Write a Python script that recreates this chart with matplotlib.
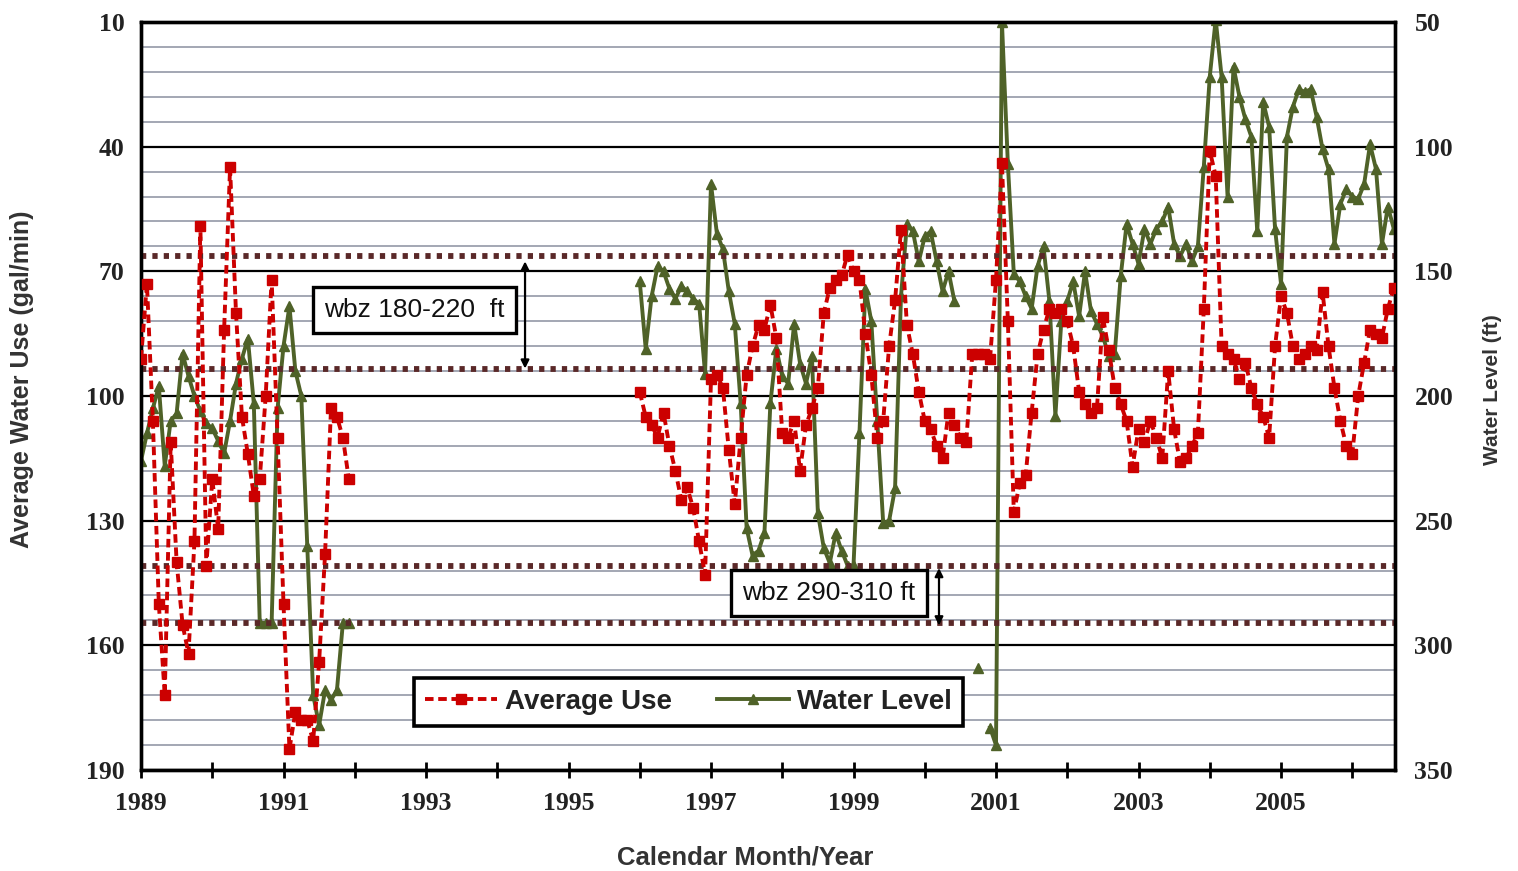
import numpy as np
import matplotlib
matplotlib.use("Agg")
import matplotlib.pyplot as plt
from matplotlib.lines import Line2D
from matplotlib.ticker import MultipleLocator, FixedLocator

# ---- monthly records (first month of each block given separately) ----
start_a = 1989.0   # Jan 1989
start_b = 1996.0   # Jan 1996

avg_use_a = [91, 73, 106, 150, 172, 111, 140, 155, 162, 135, 59, 141,
             120, 132, 84, 45, 80, 105, 114, 124, 120, 100, 72, 110,
             150, 185, 176, 178, 178, 183, 164, 138, 103, 105, 110, 120]

level_a = [226, 215, 205, 196, 228, 210, 207, 183, 192, 200, 206, 211,
           213, 218, 223, 210, 195, 185, 177, 203, 291, 291, 291, 205,
           180, 164, 190, 200, 260, 320, 332, 318, 322, 318, 291, 291]

avg_use_b = [99, 105, 107, 110, 104, 112, 118, 125, 122, 127, 135, 143,
             96, 95, 98, 113, 126, 110, 95, 88, 83, 84, 78, 86,
             109, 110, 106, 118, 107, 103, 98, 80, 74, 72, 71, 66,
             70, 72, 85, 95, 110, 106, 88, 77, 60, 83, 90, 99,
             106, 108, 112, 115, 104, 107, 110, 111, 90, 90, 90, 91,
             72, 44, 82, 128, 121, 119, 104, 90, 84, 79, 80, 79,
             82, 88, 99, 102, 104, 103, 81, 89, 98, 102, 106, 117,
             108, 111, 106, 110, 115, 94, 108, 116, 115, 112, 109, 79,
             41, 47, 88, 90, 91, 96, 92, 98, 102, 105, 110, 88,
             76, 80, 88, 91, 90, 88, 89, 75, 88, 98, 106, 112,
             114, 100, 92, 84, 85, 86, 79, 74]

nan = np.nan
level_b = [154, 181, 160, 148, 150, 157, 161, 156, 158, 161, 163, 191,
           115, 135, 141, 158, 171, 203, 253, 264, 262, 255, 203, 181,
           192, 195, 171, 187, 195, 184, 247, 261, 267, 255, 262, 268,
           268, 215, 157, 170, 210, 251, 250, 237, 160, 131, 134, 146,
           136, 134, 146, 158, 150, 162, nan, nan, nan, 309, nan, 333,
           340, 50, 107, 151, 154, 160, 165, 148, 140, 162, 208, 170,
           162, 154, 168, 150, 166, 171, 176, 184, 183, 152, 131, 139,
           147, 133, 139, 133, 130, 124, 139, 144, 139, 146, 140, 108,
           72, 49, 72, 120, 68, 80, 89, 96, 134, 82, 92, 133,
           155, 96, 84, 77, 78, 77, 88, 101, 109, 139, 123, 117,
           120, 121, 115, 99, 109, 139, 124, 133]

# water-bearing-zone reference levels (ft)
zone_levels = [144, 189, 268, 291]
zone_labels = ["wbz 180-220  ft", "wbz 290-310 ft"]

use_ticks = list(range(10, 191, 30))
level_ticks = list(range(50, 351, 50))

t_a = start_a + np.arange(len(avg_use_a)) / 12.0
t_b = start_b + np.arange(len(avg_use_b)) / 12.0

RED = "#CC0000"
GREEN = "#4F6228"
DOT = "#5A2828"

fig = plt.figure(figsize=(15.18, 8.71), dpi=100)
fig.patch.set_facecolor("white")
ax = fig.add_axes([141/1518, 1 - 770/871, (1395-141)/1518, (770-22)/871])
ax2 = ax.twinx()
ax.set_zorder(ax2.get_zorder() + 1)
ax.patch.set_visible(False)

# --- right axis: water level, grid, reference lines ---
ax2.set_ylim(350, 50)
ax2.yaxis.set_major_locator(FixedLocator(level_ticks))
ax2.yaxis.set_minor_locator(MultipleLocator(10))
ax2.grid(which="minor", axis="y", color="#A3A7B3", lw=1.4, zorder=0)
ax2.grid(which="major", axis="y", color="black", lw=1.6, zorder=0)
ax2.tick_params(axis="y", which="both", length=0, pad=14)
ax2.set_axisbelow(True)

green_kw = dict(color=GREEN, lw=2.8, marker="^", ms=7.5, mfc=GREEN, mec=GREEN)
ax2.plot(t_a, level_a, **green_kw, zorder=3)
ax2.plot(t_b, level_b, **green_kw, zorder=3)

for lv in zone_levels:
    ax2.axhline(lv, color=DOT, lw=4.2, ls=(0, (0.9, 1.05)), zorder=4)

# --- left axis: average use ---
ax.set_ylim(190, 10)
ax.yaxis.set_major_locator(FixedLocator(use_ticks))
ax.tick_params(axis="y", which="both", length=0, pad=12)

red_kw = dict(color=RED, lw=2.8, ls=(0, (2.2, 1.2)), marker="s", ms=7.5,
              mfc=RED, mec=RED)
ax.plot(t_a, avg_use_a, **red_kw, zorder=5)
ax.plot(t_b, avg_use_b, **red_kw, zorder=5)

# --- x axis ---
ax.set_xlim(1989.0, 2006.6)
ax.xaxis.set_major_locator(FixedLocator(np.arange(1989, 2007, 1)))
labels = [str(y) if (y - 1989) % 2 == 0 else "" for y in range(1989, 2007)]
ax.set_xticklabels(labels)
ax.tick_params(axis="x", direction="inout", length=11, width=2, pad=10)
ax2.tick_params(axis="x", length=0)

for lab in ax.get_xticklabels() + ax.get_yticklabels() + ax2.get_yticklabels():
    lab.set_fontfamily("Liberation Serif")
    lab.set_fontweight("bold")
    lab.set_fontsize(18.5)
    lab.set_color("#222222")

for a in (ax, ax2):
    for s in a.spines.values():
        s.set_linewidth(2.4)
        s.set_color("black")

# --- zone annotations ---
box_kw = dict(boxstyle="square,pad=0.42", fc="white", ec="black", lw=2.4)
ax.text(0.218, 0.615, zone_labels[0], transform=ax.transAxes, ha="center",
        va="center", fontsize=19, family="Liberation Sans", color="#111111",
        bbox=box_kw, zorder=7)
ax.text(0.5487, 0.2366, zone_labels[1], transform=ax.transAxes, ha="center",
        va="center", fontsize=19, family="Liberation Sans", color="#111111",
        bbox=box_kw, zorder=7)

arrow_kw = dict(arrowstyle="<|-|>", color="black", lw=1.6, mutation_scale=12,
                shrinkA=0, shrinkB=0)
ax2.annotate("", xy=(1994.39, zone_levels[0] + 2), xytext=(1994.39, zone_levels[1]),
             arrowprops=arrow_kw, zorder=7)
ax2.annotate("", xy=(2000.2, zone_levels[2] + 1), xytext=(2000.2, zone_levels[3] + 1),
             arrowprops=arrow_kw, zorder=7)

# --- legend ---
h_red = Line2D([], [], **red_kw)
h_green = Line2D([], [], **green_kw)
leg = ax.legend([h_red, h_green], ["Average Use", "Water Level"], ncol=2,
                loc="center", bbox_to_anchor=((688.5 - 141) / 1254, (770 - 702) / 748),
                frameon=True, fancybox=False, edgecolor="black", framealpha=1,
                prop=dict(family="Liberation Sans", weight="bold", size=20),
                handlelength=2.6, columnspacing=1.6, borderpad=0.4, handletextpad=0.3)
leg.get_frame().set_linewidth(2.6)
leg.set_zorder(8)
for t in leg.get_texts():
    t.set_color("#222222")

# --- axis titles ---
fig.text(22/1518, 1 - 379/871, "Average Water Use (gal/min)", rotation=90,
         ha="center", va="center", fontsize=18, family="Liberation Sans",
         weight="bold", color="#333333")
fig.text(1493/1518, 1 - 390/871, "Water Level (ft)", rotation=90,
         ha="center", va="center", fontsize=15, family="Liberation Sans",
         weight="bold", color="#333333")
fig.text(745/1518, 1 - 857/871, "Calendar Month/Year", ha="center", va="center",
         fontsize=18.5, family="Liberation Sans", weight="bold", color="#333333")

fig.savefig("out.png", dpi=100, facecolor="white")
